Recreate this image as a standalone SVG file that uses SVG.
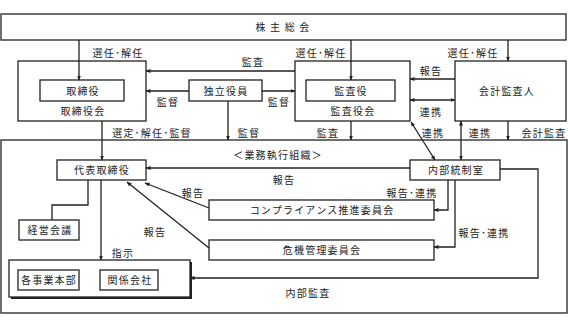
<svg xmlns="http://www.w3.org/2000/svg" width="568" height="326" viewBox="0 0 568 326">
<style>
  .box{fill:#fff;stroke:#222;stroke-width:1.3}
  .ln{fill:none;stroke:#222;stroke-width:1.3}
  text{font-family:"Noto Sans CJK JP","Noto Sans CJK SC",sans-serif;font-size:10px;fill:#222;text-anchor:middle;letter-spacing:1.2px}
</style>
<defs>
  <marker id="ah" viewBox="0 0 10 10" refX="9" refY="5" markerWidth="5" markerHeight="5" orient="auto-start-reverse" markerUnits="userSpaceOnUse">
    <path d="M0,1 L10,5 L0,9 Z" fill="#222"/>
  </marker>
</defs>
<rect width="568" height="326" fill="#fff"/>

<g id="kabunushi"><rect class="box" x="1" y="14" width="565" height="26"/><text x="283" y="31">株 主 総 会</text></g>
<g id="torishimariyakukai"><rect class="box" x="18" y="61" width="128" height="60"/><text x="83" y="115">取締役会</text></g>
<g id="torishimariyaku"><rect class="box" x="40" y="80" width="84" height="21"/><text x="83" y="94.5">取締役</text></g>
<g id="dokuritsu"><rect class="box" x="189" y="80" width="73" height="21"/><text x="226" y="94.5">独立役員</text></g>
<g id="kansayakukai"><rect class="box" x="295" y="61" width="115" height="60"/><text x="353" y="115">監査役会</text></g>
<g id="kansayaku"><rect class="box" x="306" y="80" width="89" height="21"/><text x="351" y="94.5">監査役</text></g>
<g id="kaikei"><rect class="box" x="455" y="61" width="111" height="60"/><text x="507" y="94.5">会計監査人</text></g>
<g id="gyomu"><rect class="box" x="1" y="140" width="566" height="173"/><text x="278" y="158.5">＜業務執行組織＞</text></g>
<g id="naibu"><rect class="box" x="410" y="160" width="90" height="20"/><text x="456" y="173.5">内部統制室</text></g>
<g id="daihyo"><rect class="box" x="57" y="160" width="89" height="20"/><text x="102" y="173.5">代表取締役</text></g>
<g id="keiei"><rect class="box" x="19" y="220" width="60" height="20"/><text x="50" y="233.5">経営会議</text></g>
<g id="compliance"><rect class="box" x="209" y="200" width="225" height="20"/><text x="322" y="213.5">コンプライアンス推進委員会</text></g>
<g id="kiki"><rect class="box" x="209" y="240" width="225" height="20"/><text x="322" y="253.5">危機管理委員会</text></g>
<g id="jigyo"><rect x="11" y="262" width="181" height="37" fill="#222"/><rect class="box" x="9" y="260" width="181" height="37"/></g>
<g id="honbu"><rect class="box" x="18" y="270" width="61" height="20"/><text x="49" y="283.5">各事業本部</text></g>
<g id="kankei"><rect class="box" x="100" y="270" width="58" height="20"/><text x="130" y="283.5">関係会社</text></g>

<g id="connectors">
  <line class="ln" x1="79" y1="40" x2="79" y2="80" marker-end="url(#ah)"/>
  <line class="ln" x1="351" y1="40" x2="351" y2="80" marker-end="url(#ah)"/>
  <line class="ln" x1="508" y1="40" x2="508" y2="61" marker-end="url(#ah)"/>
  <line class="ln" x1="295" y1="71" x2="146" y2="71" marker-end="url(#ah)"/>
  <line class="ln" x1="189" y1="91" x2="146" y2="91" marker-end="url(#ah)"/>
  <line class="ln" x1="262" y1="91" x2="295" y2="91" marker-end="url(#ah)"/>
  <line class="ln" x1="228" y1="101" x2="228" y2="140" marker-end="url(#ah)"/>
  <line class="ln" x1="455" y1="79" x2="410" y2="79" marker-end="url(#ah)"/>
  <line class="ln" x1="410" y1="100" x2="455" y2="100" marker-start="url(#ah)" marker-end="url(#ah)"/>
  <line class="ln" x1="351" y1="121" x2="351" y2="140" marker-end="url(#ah)"/>
  <line class="ln" x1="508" y1="121" x2="508" y2="140" marker-end="url(#ah)"/>
  <line class="ln" x1="411" y1="122" x2="435" y2="160" marker-start="url(#ah)" marker-end="url(#ah)"/>
  <line class="ln" x1="461" y1="121" x2="461" y2="160" marker-start="url(#ah)" marker-end="url(#ah)"/>
  <line class="ln" x1="102" y1="121" x2="102" y2="160" marker-end="url(#ah)"/>
  <line class="ln" x1="410" y1="168" x2="146" y2="168" marker-end="url(#ah)"/>
  <polyline class="ln" points="88,180 88,205 52,205 52,220"/>
  <line class="ln" x1="101" y1="180" x2="101" y2="260" marker-end="url(#ah)"/>
  <polyline class="ln" points="500,169 538,169 538,278 190,278" marker-end="url(#ah)"/>
  <line class="ln" x1="209" y1="208" x2="145" y2="183" marker-end="url(#ah)"/>
  <line class="ln" x1="209" y1="248" x2="127" y2="182" marker-end="url(#ah)"/>
  <polyline class="ln" points="448,180 448,210 434,210" marker-end="url(#ah)"/>
  <polyline class="ln" points="455,180 455,247 434,247" marker-end="url(#ah)"/>
</g>

<g id="labels">
  <text x="118" y="57">選任･解任</text>
  <text x="321" y="57">選任･解任</text>
  <text x="473" y="57">選任･解任</text>
  <text x="253" y="66">監査</text>
  <text x="168" y="106">監督</text>
  <text x="279" y="106">監督</text>
  <text x="249" y="137">監督</text>
  <text x="152" y="137">選定･解任･監督</text>
  <text x="328" y="137">監査</text>
  <text x="431" y="75">報告</text>
  <text x="431" y="116">連携</text>
  <text x="433" y="137">連携</text>
  <text x="480" y="137">連携</text>
  <text x="544" y="137">会計監査</text>
  <text x="284" y="184">報告</text>
  <text x="193" y="197">報告</text>
  <text x="155" y="236">報告</text>
  <text x="412" y="197">報告･連携</text>
  <text x="484" y="237">報告･連携</text>
  <text x="123" y="257">指示</text>
  <text x="308" y="297">内部監査</text>
</g>
</svg>
